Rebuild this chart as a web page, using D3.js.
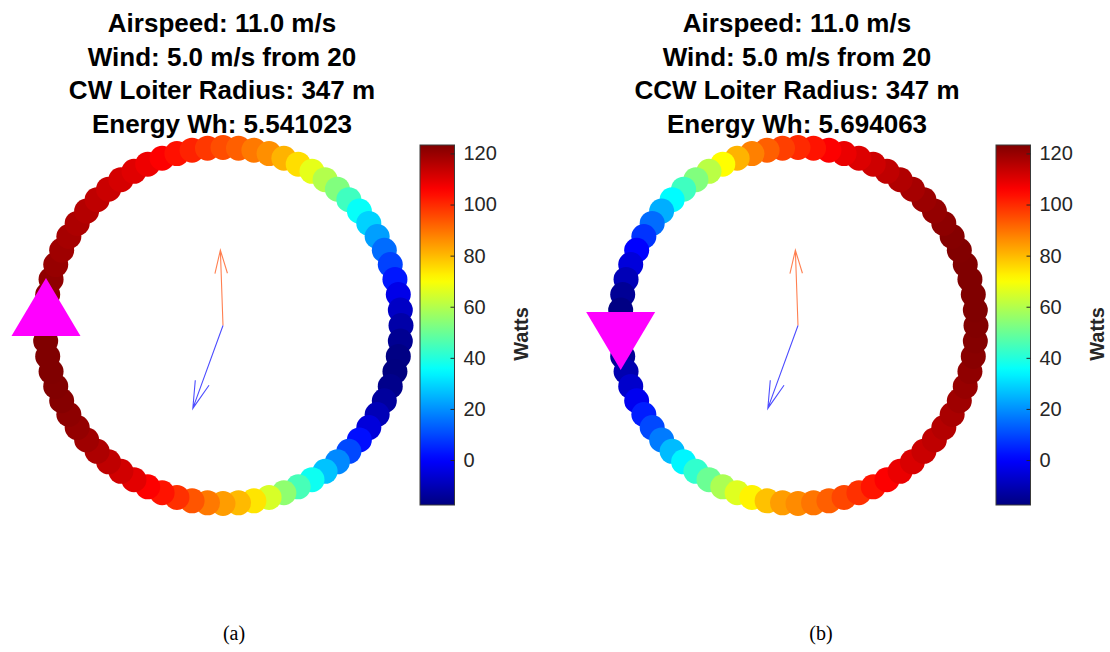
<!DOCTYPE html>
<html>
<head>
<meta charset="utf-8">
<script src="https://cdn.jsdelivr.net/npm/d3@7"></script>
<style>
  body { margin: 0; background: #fff; }
  svg { display: block; }
  text { font-family: "Liberation Sans", Arial, sans-serif; }
  text.sublabel { font-family: "Liberation Serif", "Times New Roman", serif; }
</style>
</head>
<body>
<svg id="chart" width="1110" height="652"></svg>
<script>
// sample bearings along the loiter circle (deg, clockwise from north)
var bearings = d3.range(0, 360, 5);

// power (W) read at each bearing, CW loiter
var cwPower = [95, 92.5, 89, 86, 81, 75, 67, 60, 53, 44, 36, 29,
  22, 15, 9, 3, -3, -8, -12, -15, -17, -17.6, -16, -13.5,
  -10, -5, 2, 10, 19, 27, 37, 45, 55, 65, 74, 80,
  84, 89, 94, 99, 103, 106, 109.5, 112, 114.5, 117, 119, 120.5,
  121.5, 122.5, 123, 123.3, 123.3, 123.3, 123.3, 123, 122, 121, 120, 119,
  118, 117, 116, 114.5, 113, 111.5, 110, 108, 106, 103.5, 101, 98];

// power (W) read at each bearing, CCW loiter
var ccwPower = [100, 103, 106, 108.5, 110.5, 112.5, 114.5, 116.5, 118, 119.5, 120.5, 121.5,
  122.5, 123, 123.3, 123.3, 123.3, 123.3, 123, 122.5, 122, 121, 120, 119,
  117.5, 116, 114.5, 113, 111, 108.5, 106, 103, 99, 96, 92.5, 89.5,
  86.5, 84, 79, 72, 66, 59, 50, 42, 34, 26, 17, 10,
  4, -2, -7, -11, -14.5, -16.5, -17.6, -17, -14.5, -10, -5, 0,
  7, 15, 24, 35, 44, 53, 61, 70.5, 81, 88, 92.5, 97];

var cbTicks = [0, 20, 40, 60, 80, 100, 120];

var titlesCW = ["Airspeed: 11.0 m/s", "Wind: 5.0 m/s from 20", "CW Loiter Radius: 347 m", "Energy Wh: 5.541023"];
var titlesCCW = ["Airspeed: 11.0 m/s", "Wind: 5.0 m/s from 20", "CCW Loiter Radius: 347 m", "Energy Wh: 5.694063"];

var loiterRadius = 347;           // m
var startBearing = [276, 265];    // deg, start of the loiter
// quiver arrows: heading (red) and wind (blue), length in m
var arrowBearing = [358, 200];
var arrowLength = [147, 172];
var arrowColor = ["#ff7f50", "#4d4dff"];

var panels = [
  { power: cwPower, titles: titlesCW, dir: 1, start: startBearing[0], cx: 223, cbX: 420, label: "(a)", labelX: 234 },
  { power: ccwPower, titles: titlesCCW, dir: -1, start: startBearing[1], cx: 798, cbX: 996, label: "(b)", labelX: 821 }
];

var clamp = function (v) { return Math.max(0, Math.min(1, v)) }
var jet = function (t) {
  var r = clamp(1.5 - Math.abs(4 * t - 3));
  var g = clamp(1.5 - Math.abs(4 * t - 2));
  var b = clamp(1.5 - Math.abs(4 * t - 1));
  return d3.rgb(255 * r, 255 * g, 255 * b).toString();
}

var svg = d3.select("#chart");
var defs = svg.append("defs");
var cy = 325.5;
var pxPerM = 178 / loiterRadius;

var draw_panel = function (p, k) {
  var xScale = d3.scaleLinear().domain([-500, 500]).range([p.cx - 500 * pxPerM, p.cx + 500 * pxPerM]);
  var yScale = d3.scaleLinear().domain([-500, 500]).range([cy + 500 * pxPerM, cy - 500 * pxPerM]);
  var extent = d3.extent(p.power);
  var color = d3.scaleSequential(jet).domain(extent);

  var g = svg.append("g");

  // titles
  g.selectAll(".title")
    .data(p.titles)
    .enter()
    .append("text")
    .attr("x", p.cx - 1)
    .attr("y", (d, i) => 32 + i * 33.7)
    .attr("text-anchor", "middle")
    .attr("font-size", 26)
    .attr("font-weight", "bold")
    .attr("fill", "#000")
    .text(d => d);

  // points in flight order from the start
  var pts = bearings.map(function (b, i) {
    return { bearing: b, power: p.power[i], order: (((b - p.start) * p.dir) % 360 + 360) % 360 };
  });
  pts.sort(function (a, b) { return d3.ascending(a.order, b.order) });

  g.selectAll(".dot")
    .data(pts)
    .enter()
    .append("circle")
    .attr("cx", d => xScale(loiterRadius * Math.sin(d.bearing * Math.PI / 180)))
    .attr("cy", d => yScale(loiterRadius * Math.cos(d.bearing * Math.PI / 180)))
    .attr("r", 12.5)
    .attr("fill", d => color(d.power));

  // quiver arrows
  for (var a = 0; a < arrowBearing.length; a++) {
    var rad = arrowBearing[a] * Math.PI / 180;
    var x0 = xScale(0), y0 = yScale(0);
    var x1 = xScale(arrowLength[a] * Math.sin(rad)), y1 = yScale(arrowLength[a] * Math.cos(rad));
    var ang = Math.atan2(y0 - y1, x0 - x1);
    var head = 0.32 * Math.hypot(x1 - x0, y1 - y0);
    var spread = 15 * Math.PI / 180;
    var path = d3.path();
    path.moveTo(x0, y0);
    path.lineTo(x1, y1);
    path.moveTo(x1 + head * Math.cos(ang + spread), y1 + head * Math.sin(ang + spread));
    path.lineTo(x1, y1);
    path.lineTo(x1 + head * Math.cos(ang - spread), y1 + head * Math.sin(ang - spread));
    g.append("path")
      .attr("d", path.toString())
      .attr("fill", "none")
      .attr("stroke", arrowColor[a])
      .attr("stroke-width", 1.1);
  }

  // start marker
  var sr = p.start * Math.PI / 180;
  var mx = xScale(loiterRadius * Math.sin(sr)), my = yScale(loiterRadius * Math.cos(sr));
  var hw = 34.5, hh = 29 * p.dir;
  g.append("path")
    .attr("d", "M" + mx + "," + (my - hh) + "L" + (mx + hw) + "," + (my + hh) + "L" + (mx - hw) + "," + (my + hh) + "Z")
    .attr("fill", "#ff00ff");

  // colorbar
  var cbW = 34.5;
  var cbScale = d3.scaleLinear().domain(extent).range([505, 145]);
  var grad = defs.append("linearGradient")
    .attr("id", "jet" + k)
    .attr("x1", 0).attr("y1", 1).attr("x2", 0).attr("y2", 0);
  grad.selectAll("stop")
    .data(d3.range(0, 1.0001, 0.02))
    .enter()
    .append("stop")
    .attr("offset", d => d)
    .attr("stop-color", d => jet(d));

  g.append("rect")
    .attr("x", p.cbX)
    .attr("y", cbScale.range()[1])
    .attr("width", cbW)
    .attr("height", cbScale.range()[0] - cbScale.range()[1])
    .attr("fill", "url(#jet" + k + ")")
    .attr("stroke", "#3a3a3a")
    .attr("stroke-width", 1);

  var axis = d3.axisRight(cbScale)
    .tickValues(cbTicks)
    .tickSizeInner(-4)
    .tickSizeOuter(0)
    .tickPadding(9);
  var ax = g.append("g")
    .attr("transform", "translate(" + (p.cbX + cbW) + ",0)")
    .call(axis);
  ax.select(".domain").remove();
  ax.selectAll(".tick line").attr("stroke", "#262626");
  ax.selectAll(".tick text")
    .attr("font-size", 20)
    .attr("fill", "#262626");

  g.append("text")
    .attr("transform", "translate(" + (p.cbX + 108) + ",334) rotate(-90)")
    .attr("text-anchor", "middle")
    .attr("font-size", 20)
    .attr("font-weight", "bold")
    .attr("fill", "#262626")
    .text("Watts");

  // subfigure label
  g.append("text")
    .attr("class", "sublabel")
    .attr("x", p.labelX)
    .attr("y", 640)
    .attr("text-anchor", "middle")
    .attr("font-size", 20)
    .attr("fill", "#000")
    .text(p.label);
}

panels.forEach(draw_panel);
</script>
</body>
</html>
